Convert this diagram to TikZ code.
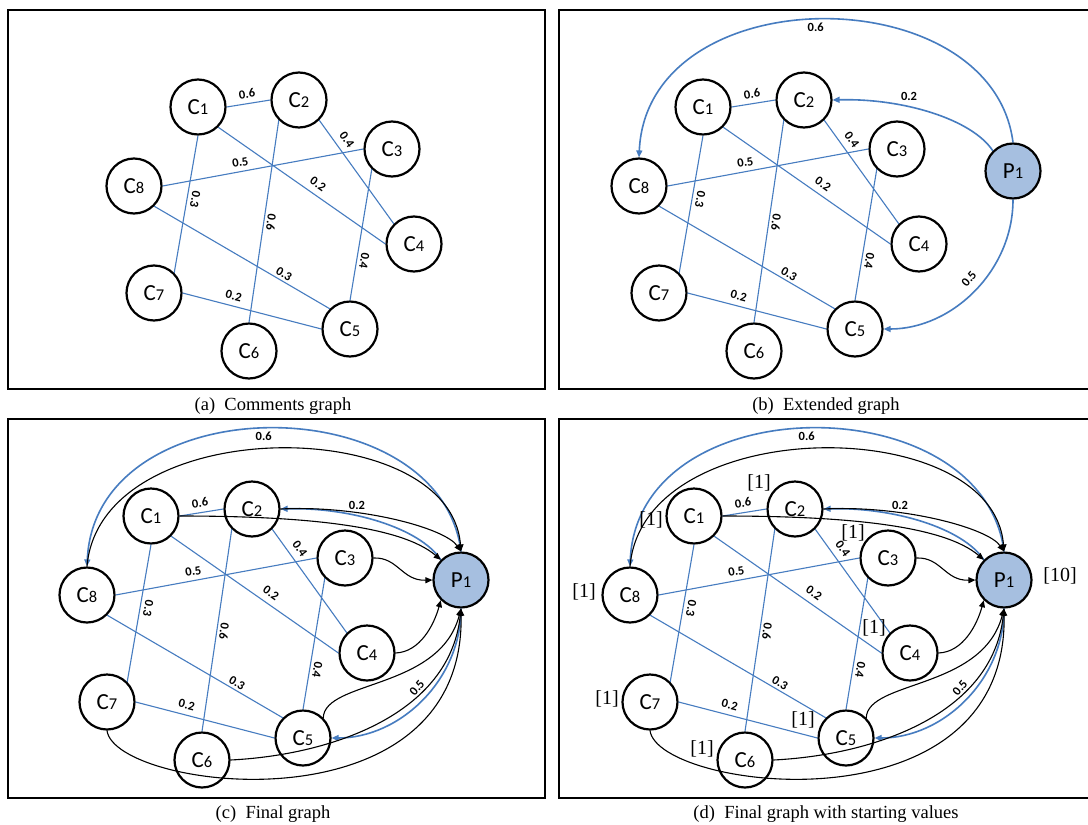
\documentclass[tikz,border=0pt]{standalone}
\usepackage{fontspec}
\setmainfont{Liberation Serif}
\newfontfamily\calfont{Carlito}
\usetikzlibrary{arrows.meta}
\definecolor{lblue}{RGB}{70,124,192}
\definecolor{pfill}{RGB}{166,191,224}
\newcommand\nlab[2]{{\fontsize{23}{23}\selectfont #1}{\fontsize{16.5}{16.5}\selectfont #2}}
\tikzset{
  cn/.style={circle, draw=black, line width=2.2pt, minimum size=55pt, inner sep=0pt, font=\calfont},
  bl/.style={draw=lblue, line width=1.1pt},
  barc/.style={draw=lblue, line width=1.6pt, -{Triangle[length=7pt,width=6pt]}},
  karc/.style={draw=black, line width=1.1pt, -{Triangle[length=7pt,width=6pt]}},
  el/.style={font={\calfont\bfseries\fontsize{12.5}{13}\selectfont}, inner sep=1pt},
  sv/.style={font={\fontsize{20}{20}\selectfont}, inner sep=0pt},
  captxt/.style={font={\fontsize{18.5}{19}\selectfont}, inner sep=0pt},
  panelframe/.style={draw=black, line width=2.3pt},
}
\newcommand\basegraph{%
  \node[cn] (c1) at (151,516) {\nlab{C}{1}};
  \node[cn] (c2) at (252,509) {\nlab{C}{2}};
  \node[cn] (c3) at (345,558) {\nlab{C}{3}};
  \node[cn] (c4) at (367,653) {\nlab{C}{4}};
  \node[cn] (c5) at (303,738) {\nlab{C}{5}};
  \node[cn] (c6) at (202,760) {\nlab{C}{6}};
  \node[cn] (c7) at (107,702) {\nlab{C}{7}};
  \node[cn] (c8) at (87,595) {\nlab{C}{8}};
  \draw[bl] (c1.east) -- node[el,sloped,above=4pt,pos=.5] (w12) {0.6} (c2.west);
  \draw[bl] (c1.south east) -- node[el,sloped,above=5pt,pos=.56] (w14) {0.2} (c4.west);
  \draw[bl] (c1.south) -- node[el,sloped,allow upside down,above=2.5pt,pos=.455] (w17) {0.3} (c7.north east);
  \draw[bl] (c2.south west) -- node[el,sloped,allow upside down,above=1.5pt,pos=.5] (w26) {0.6} (c6.north);
  \draw[bl] (c2.south east) -- node[el,sloped,above=5.5pt,pos=.25] (w24) {0.4} (c4.north west);
  \draw[bl] (c8.east) -- node[el,sloped,above=3.5pt,pos=.395] (w83) {0.5} (c3.west);
  \draw[bl] (c3.south west) -- node[el,sloped,allow upside down,above=2pt,pos=.69] (w35) {0.4} (c5.north);
  \draw[bl] (c8.south east) -- node[el,sloped,above=1pt,pos=.72] (w85) {0.3} (c5.north west);
  \draw[bl] (c7.east) -- node[el,sloped,above=4.5pt,pos=.35] (w75) {0.2} (c5.west);
}
\newcommand\extgraph{%
  \node[cn, fill=pfill] (p1) at (461,580) {\nlab{P}{1}};
  \draw[barc] (p1.north) .. controls (440,385) and (95,385) .. node[el,pos=.51,below=2pt] (wp8) {0.6} (c8.north);
  \draw[barc] (p1.north west) .. controls (420,528) and (350,507) .. (c2.east);
  \node[el] (wp2) at (357,505) {0.2};
  \draw[barc] (p1.south) .. controls (461,680) and (400,738) .. (c5.east);
  \node[el, rotate=50] (wp5) at (417,688) {0.5};
}
\newcommand\finalgraph{%
  \draw[karc] (c8.north) .. controls (100,412) and (450,412) .. (p1.north);
  \draw[karc] (c2.east) .. controls (360,505) and (445,528) .. (p1.north);
  \draw[karc] (c1.east) .. controls (300,516) and (400,525) .. (p1.north west);
  \draw[karc] (c3.east) .. controls (398,557) and (402,581) .. (p1.west);
  \draw[karc] (c4.east) .. controls (420,652) and (434,625) .. (p1.south west);
  \draw[karc] (c5.north east) .. controls (325,680) and (440,690) .. (p1.south);
  \draw[karc] (c6.east) .. controls (330,755) and (450,715) .. (p1.south);
  \draw[karc] (c7.south) .. controls (115,790) and (465,835) .. (p1.south);
}
\newcommand\startvals{%
  \node[sv] (s1) at ([shift={(-43,4)}]c1.center) {[1]};
  \node[sv] (s2) at ([shift={(-36,-26)}]c2.center) {[1]};
  \node[sv] (s3) at ([shift={(-35,-25)}]c3.center) {[1]};
  \node[sv] (s4) at ([shift={(-36,-25)}]c4.center) {[1]};
  \node[sv] (s5) at ([shift={(-43,-18)}]c5.center) {[1]};
  \node[sv] (s6) at ([shift={(-43,-11)}]c6.center) {[1]};
  \node[sv] (s7) at ([shift={(-43,-3)}]c7.center) {[1]};
  \node[sv] (s8) at ([shift={(-46,-3)}]c8.center) {[1]};
  \node[sv] (sp) at ([shift={(56,-4)}]p1.center) {[10]};
}
\begin{document}
\begin{tikzpicture}[x=1pt,y=-1pt]
\useasboundingbox (0,0) rectangle (1088,825);
\clip (0,0) rectangle (1088,825);
\fill[white] (0,0) rectangle (1088,825);
\draw[panelframe] (8,10) rectangle (545,389);
\draw[panelframe] (559,10) rectangle (1098,389);
\draw[panelframe] (8,419) rectangle (545,798);
\draw[panelframe] (559,419) rectangle (1098,798);
\node[captxt] (capa) at (273,406) {(a)\hspace{0.5em}Comments graph};
\node[captxt] (capb) at (826,406) {(b)\hspace{0.5em}Extended graph};
\node[captxt] (capc) at (273,814) {(c)\hspace{0.5em}Final graph};
\node[captxt] (capd) at (826,814) {(d)\hspace{0.5em}Final graph with starting values};
\begin{scope}[shift={(47,-409)}, name prefix=a-]
  \basegraph
\end{scope}
\begin{scope}[shift={(552,-409)}, name prefix=b-]
  \basegraph
  \extgraph
\end{scope}
\begin{scope}[name prefix=c-]
  \basegraph
  \extgraph
  \finalgraph
\end{scope}
\begin{scope}[shift={(543,0)}, name prefix=d-]
  \basegraph
  \extgraph
  \finalgraph
  \startvals
\end{scope}
\end{tikzpicture}
\end{document}
